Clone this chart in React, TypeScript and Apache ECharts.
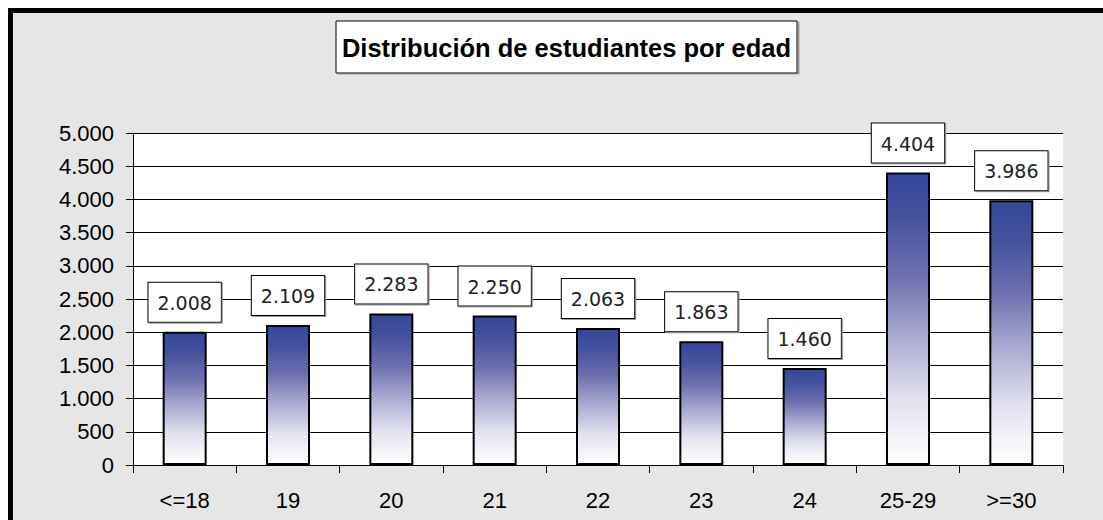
import React, { useEffect, useRef } from "react";
import * as echarts from "echarts";

const categories = ["<=18", "19", "20", "21", "22", "23", "24", "25-29", ">=30"];
const students = [2008, 2109, 2283, 2250, 2063, 1863, 1460, 4404, 3986];
const titleText = "Distribución de estudiantes por edad";

const fmt = (v: number) => {
  const s = Math.round(v).toString();
  return s.replace(/\B(?=(\d{3})+(?!\d))/g, ".");
};

export default function App() {
  const ref = useRef<HTMLDivElement>(null);
  useEffect(() => {
    document.documentElement.style.overflow = "hidden";
    document.body.style.overflow = "hidden";
    const chart = echarts.init(ref.current!, null, { renderer: "svg" });
    chart.setOption({
      animation: false,
      backgroundColor: "#e6e6e6",
      graphic: [
        {
          type: "rect",
          shape: { x: 323, y: 8, width: 461, height: 52 },
          style: { fill: "#fff", stroke: "#000", lineWidth: 1, shadowColor: "#999", shadowOffsetX: 2, shadowOffsetY: 1, shadowBlur: 0 },
          z: 10,
        },
        {
          type: "text",
          x: 553.5,
          y: 35,
          style: {
            text: titleText,
            font: "bold 25.5px 'Liberation Sans', Arial, sans-serif",
            fill: "#000",
            textAlign: "center",
            textVerticalAlign: "middle",
          },
          z: 11,
        },
      ],
      grid: {
        left: 120,
        top: 120,
        width: 930,
        height: 332,
        show: true,
        backgroundColor: "#fff",
        borderWidth: 0,
      },
      xAxis: {
        type: "category",
        data: categories,
        boundaryGap: true,
        axisLine: { show: true, lineStyle: { color: "#000", width: 1 } },
        axisTick: { show: true, length: 8, inside: false, alignWithLabel: false, lineStyle: { color: "#000" } },
        axisLabel: {
          margin: 24,
          color: "#000",
          fontSize: 22,
          fontFamily: "'Liberation Sans', Arial, sans-serif",
        },
        splitLine: { show: false },
      },
      yAxis: {
        type: "value",
        min: 0,
        max: 5000,
        interval: 500,
        axisLine: { show: true, lineStyle: { color: "#000", width: 1 } },
        axisTick: { show: true, length: 7, inside: false, lineStyle: { color: "#000" } },
        axisLabel: {
          margin: 19,
          color: "#000",
          fontSize: 22,
          fontFamily: "'Liberation Sans', Arial, sans-serif",
          formatter: (v: number) => fmt(v),
        },
        splitLine: { show: true, lineStyle: { color: "#000", width: 1 } },
      },
      series: [
        {
          type: "bar",
          data: students,
          barWidth: 44,
          itemStyle: {
            color: new echarts.graphic.LinearGradient(0, 0, 0, 1, [
              { offset: 0, color: "#34479a" },
              { offset: 0.15, color: "#45529e" },
              { offset: 0.35, color: "#6e70ae" },
              { offset: 0.55, color: "#a8a8d0" },
              { offset: 0.78, color: "#e2e2f0" },
              { offset: 1, color: "#ffffff" },
            ]),
            borderColor: "#000",
            borderWidth: 2,
          },
          label: {
            show: true,
            position: "top",
            distance: 10,
            formatter: (p: any) => fmt(p.value),
            fontFamily: "'DejaVu Sans', sans-serif",
            fontSize: 19,
            color: "#222",
            backgroundColor: "#fff",
            borderColor: "#000",
            borderWidth: 1,
            padding: [10, 9, 9, 9],
            lineHeight: 20,
            shadowColor: "#999",
            shadowOffsetX: 1,
            shadowOffsetY: 1,
            shadowBlur: 0,
          },
        },
      ],
    });
    return () => chart.dispose();
  }, []);
  return (
    <div
      style={{
        position: "fixed",
        left: 8,
        top: 8,
        width: 1095,
        height: 512,
        overflow: "hidden",
        boxSizing: "border-box",
        borderTop: "5px solid #000",
        borderLeft: "5px solid #000",
        background: "#e6e6e6",
      }}
    >
      <div ref={ref} style={{ width: 1090, height: 507 }} />
    </div>
  );
}
